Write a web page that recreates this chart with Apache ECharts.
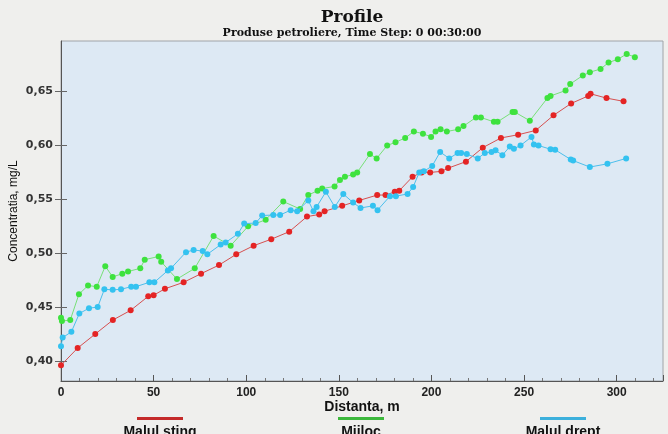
<!DOCTYPE html>
<html><head><meta charset="utf-8">
<script src="https://cdn.jsdelivr.net/npm/echarts@6/dist/echarts.min.js"></script>
<style>html,body{margin:0;padding:0;background:#efefed;}#c{width:668px;height:434px;}</style>
</head><body><div id="c"></div>
<script>
const seriesNames = ['Malul sting', 'Mijloc', 'Malul drept'];

const distSting = [0, 9, 18.5, 28, 37.6, 47.1, 50, 56.1, 66.2, 75.6, 85.3, 94.6, 104, 113.5, 123.2, 132.8, 139.4, 142.3, 151.8, 161, 170.7, 175.2, 180.2, 182.6, 189.8, 194.7, 199.3, 205.4, 209, 218.6, 227.7, 237.5, 246.8, 256.3, 265.9, 275.4, 284.6, 285.9, 294.5, 303.7];
const concSting = [0.396, 0.412, 0.425, 0.438, 0.447, 0.460, 0.461, 0.467, 0.473, 0.481, 0.489, 0.499, 0.507, 0.513, 0.520, 0.534, 0.536, 0.539, 0.544, 0.549, 0.554, 0.554, 0.557, 0.558, 0.571, 0.575, 0.575, 0.576, 0.579, 0.585, 0.598, 0.607, 0.610, 0.614, 0.628, 0.639, 0.646, 0.648, 0.644, 0.641];

const distMijloc = [0, 0.5, 5, 9.7, 14.6, 19.3, 23.9, 27.9, 33.1, 36.2, 42.8, 45.2, 52.7, 54.1, 62.6, 72.2, 82.4, 91.6, 101, 110.5, 120, 129.1, 133.5, 138.5, 141, 147.7, 150.6, 153.3, 157.7, 159.9, 166.8, 170.4, 176.1, 180.6, 185.8, 190.5, 195.4, 199.8, 202.2, 204.9, 208.3, 214.4, 217.3, 224, 226.7, 233.7, 235.7, 243.8, 245, 253.1, 262.6, 264.3, 272.4, 274.9, 281.7, 285.5, 291.3, 295.6, 300.6, 305.4, 309.8];
const concMijloc = [0.440, 0.437, 0.438, 0.462, 0.470, 0.469, 0.488, 0.478, 0.481, 0.483, 0.486, 0.494, 0.497, 0.492, 0.476, 0.486, 0.516, 0.507, 0.525, 0.531, 0.548, 0.541, 0.554, 0.558, 0.560, 0.562, 0.568, 0.571, 0.573, 0.575, 0.592, 0.588, 0.600, 0.603, 0.607, 0.613, 0.611, 0.608, 0.613, 0.615, 0.613, 0.615, 0.618, 0.626, 0.626, 0.622, 0.622, 0.631, 0.631, 0.623, 0.644, 0.646, 0.651, 0.657, 0.665, 0.668, 0.671, 0.677, 0.680, 0.685, 0.682];

const distDrept = [0, 0.9, 5.6, 9.9, 15.1, 19.8, 23.4, 27.9, 32.4, 37.9, 40.5, 47.7, 50.4, 57.7, 59.4, 67.5, 71.6, 76.5, 79, 86.2, 88.9, 95.5, 98.9, 105.1, 108.6, 114.6, 118.3, 124, 127.5, 133.5, 136.3, 138, 143, 147.8, 152.4, 157.7, 161.7, 168.4, 170.9, 177.6, 180.8, 187.1, 190.1, 193.4, 195.9, 200.4, 204.7, 209.6, 214.1, 216, 219.1, 225, 228.8, 232.4, 234.6, 238.3, 242.3, 244.5, 248.1, 254, 255.3, 257.8, 264.3, 266.8, 275.2, 276.5, 285.5, 295, 305.1];
const concDrept = [0.4136, 0.4217, 0.427, 0.444, 0.449, 0.450, 0.4665, 0.466, 0.4665, 0.469, 0.469, 0.473, 0.473, 0.484, 0.486, 0.501, 0.503, 0.502, 0.499, 0.508, 0.510, 0.518, 0.5275, 0.528, 0.535, 0.5355, 0.5355, 0.540, 0.539, 0.549, 0.539, 0.543, 0.557, 0.543, 0.555, 0.547, 0.542, 0.544, 0.540, 0.553, 0.553, 0.555, 0.5615, 0.575, 0.576, 0.581, 0.594, 0.588, 0.593, 0.593, 0.592, 0.588, 0.593, 0.594, 0.5955, 0.591, 0.599, 0.597, 0.600, 0.608, 0.601, 0.600, 0.5965, 0.596, 0.587, 0.586, 0.580, 0.583, 0.588];

const xTicks = [0, 50, 100, 150, 200, 250, 300];
const yTicks = [0.40, 0.45, 0.50, 0.55, 0.60, 0.65];

const markerColors = ['#e42424', '#3ee23e', '#34c2f0'];
const lineColors = ['#d65050', '#78e078', '#4cbfec'];
const legendColors = ['#c42a2a', '#3cb83c', '#3cb0dc'];

const zip = (xs, ys) => xs.map((x, i) => [x, ys[i]]);
const dataSets = [zip(distSting, concSting), zip(distMijloc, concMijloc), zip(distDrept, concDrept)];

const chart = echarts.init(document.getElementById('c'), null, {renderer: 'canvas'});

const legendX = [160, 361, 563];
const graphics = [];
seriesNames.forEach((n, i) => {
  graphics.push({type: 'rect', left: legendX[i] - 23, top: 417, shape: {width: 46, height: 3}, style: {fill: legendColors[i]}});
  graphics.push({type: 'text', x: legendX[i], y: 425, style: {text: n, fill: '#111', font: 'bold 14px "Liberation Sans", Arial, sans-serif', textAlign: 'center', textVerticalAlign: 'top'}});
});

const yMin = 0.3814, yMax = 0.697;

chart.setOption({
  backgroundColor: '#efefed',
  animation: false,
  title: [
    {text: 'Profile', left: 347, top: 4, textAlign: 'center', textStyle: {fontFamily: '"DejaVu Serif", serif', fontWeight: 'bold', fontSize: 17, color: '#111'}},
    {text: 'Produse petroliere, Time Step: 0 00:30:00', left: 347, top: 23, textAlign: 'center', textStyle: {fontFamily: '"DejaVu Serif", serif', fontWeight: 'bold', fontSize: 11, color: '#111'}}
  ],
  grid: {left: 61, right: 5, top: 41, bottom: 53, outerBoundsMode: 'none', containLabel: false, show: true, backgroundColor: '#dde9f4', borderColor: '#a0a4a8', borderWidth: 1},
  xAxis: {
    type: 'value', min: 0, max: 325, interval: 50,
    name: 'Distanta, m', nameLocation: 'middle', nameGap: 19, nameMoveOverlap: false,
    nameTextStyle: {fontFamily: '"Liberation Sans", Arial, sans-serif', fontWeight: 'bold', fontSize: 14, color: '#111'},
    axisLine: {show: true, lineStyle: {color: '#555', width: 1}},
    axisTick: {show: true, inside: true, length: 6, lineStyle: {color: '#555'}},
    minorTick: {show: true, splitNumber: 5, length: 3, lineStyle: {color: '#777'}},
    axisLabel: {showMaxLabel: false, margin: 6, fontFamily: '"Liberation Sans", Arial, sans-serif', fontWeight: 'bold', fontSize: 12, color: '#222'},
    splitLine: {show: false}
  },
  yAxis: [{
    type: 'value', min: yMin, max: yMax, position: 'left',
    name: 'Concentratia, mg/L', nameLocation: 'middle', nameGap: 41, nameRotate: 90, nameMoveOverlap: false,
    nameTextStyle: {fontFamily: '"Liberation Sans", Arial, sans-serif', fontSize: 12, color: '#111'},
    axisLine: {show: true, lineStyle: {color: '#555', width: 1}},
    axisTick: {show: true, inside: false, length: 6, customValues: yTicks, lineStyle: {color: '#666'}},
    axisLabel: {customValues: yTicks, margin: 8, formatter: v => v.toFixed(2).replace('.', ','), fontFamily: '"DejaVu Sans", sans-serif', fontWeight: 'bold', fontSize: 11, color: '#333'},
    splitLine: {show: false}
  }, {
    type: 'value', min: yMin, max: yMax, position: 'left', offset: 0,
    axisLine: {show: false},
    axisTick: {show: true, inside: true, length: 6, customValues: yTicks, lineStyle: {color: '#666'}},
    axisLabel: {show: false},
    splitLine: {show: false}
  }],
  series: seriesNames.map((n, i) => ({
    name: n, type: 'line', yAxisIndex: 0, data: dataSets[i],
    symbol: 'circle', symbolSize: 6, showSymbol: true,
    itemStyle: {color: markerColors[i]},
    lineStyle: {color: lineColors[i], width: 1},
    z: 3 + i
  })),
  graphic: graphics
});
</script>
</body></html>
